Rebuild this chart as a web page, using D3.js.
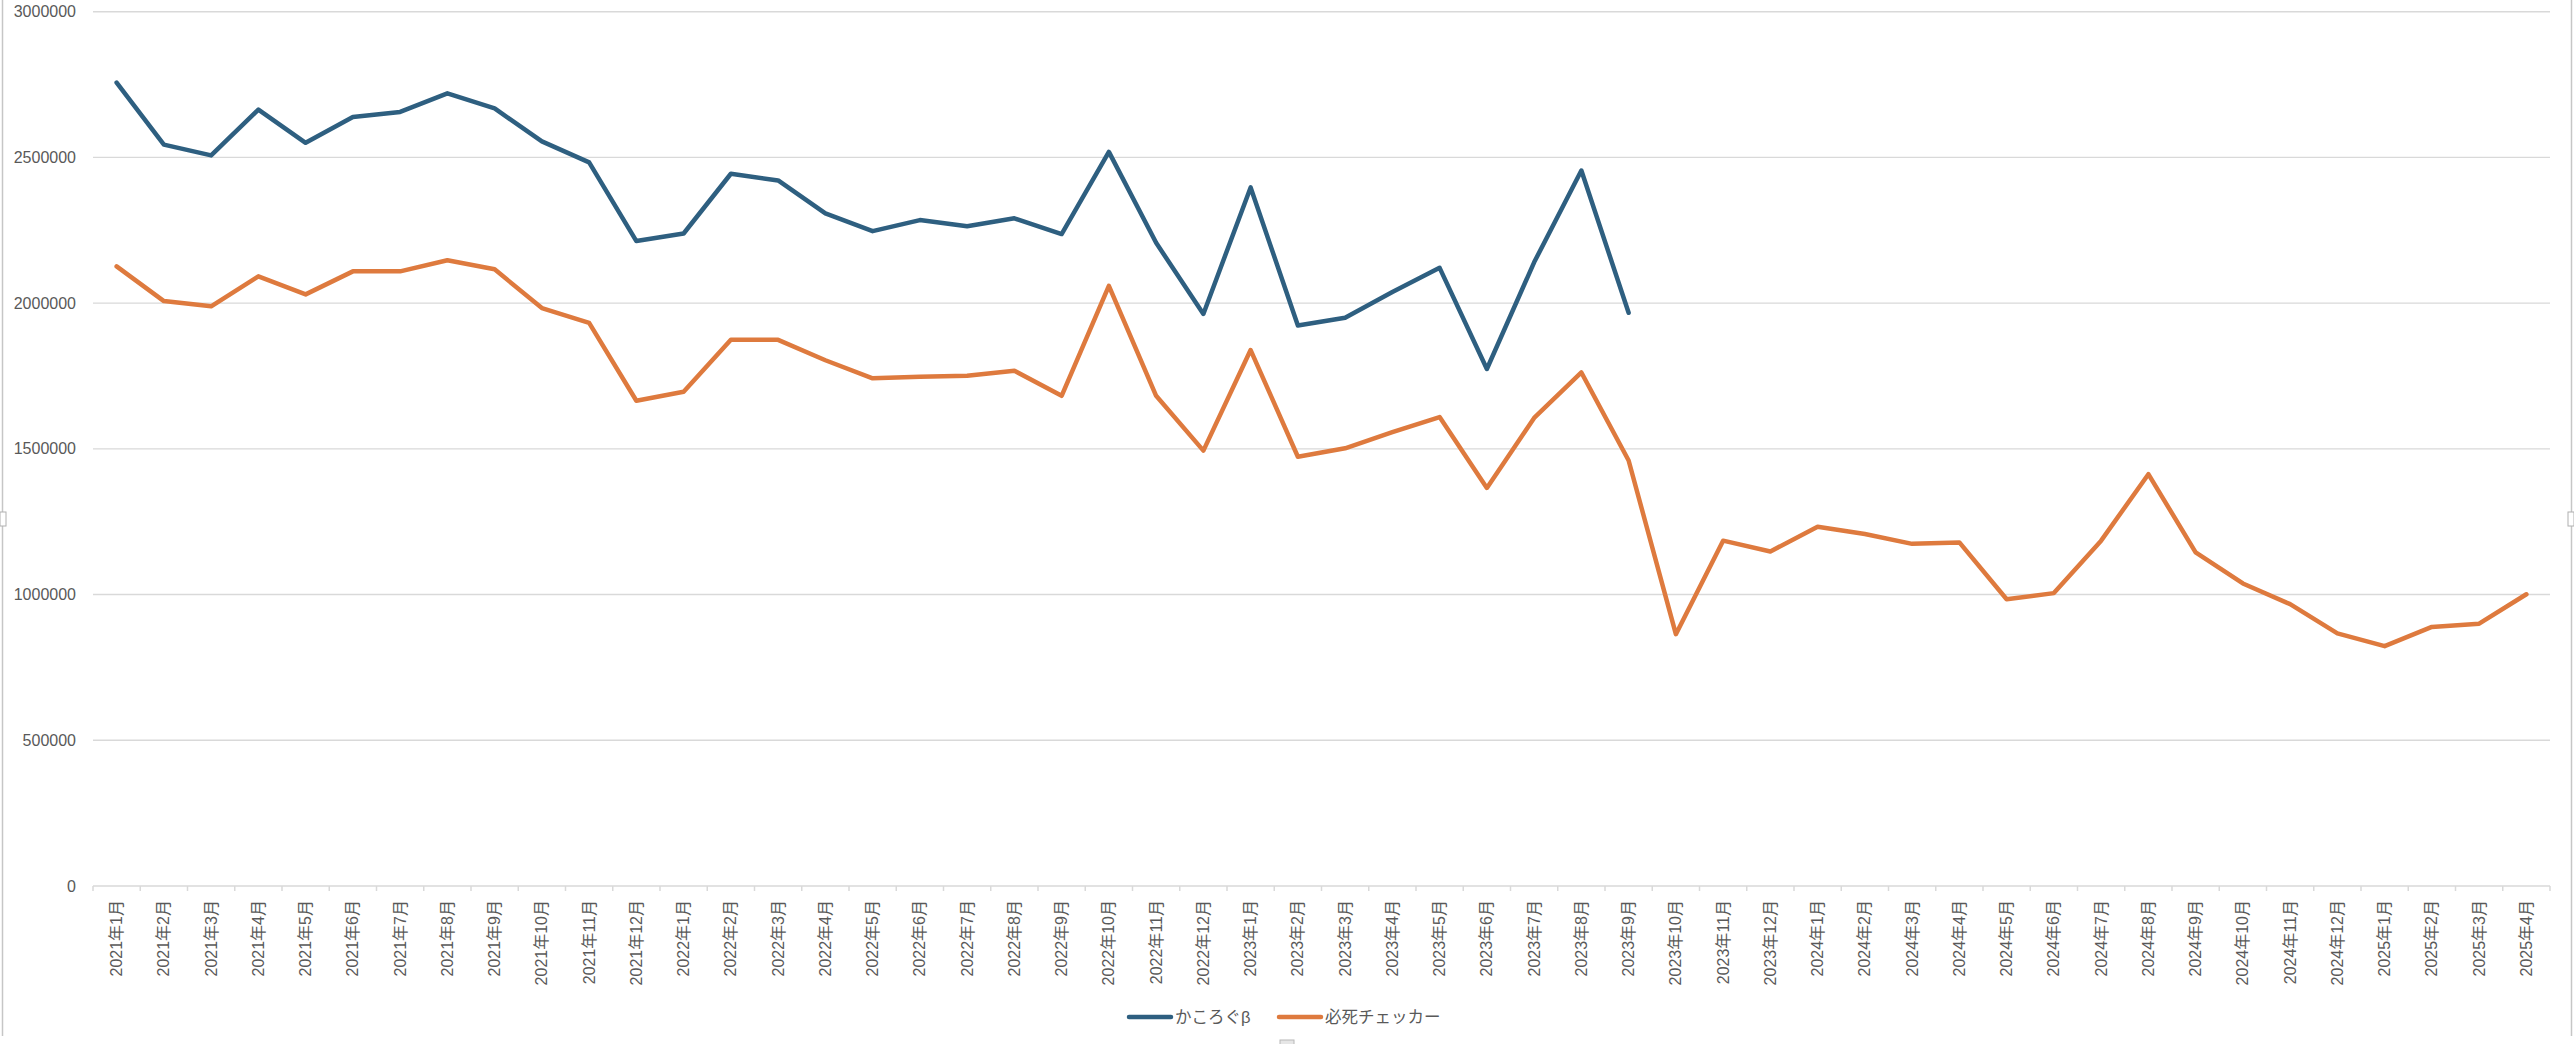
<!DOCTYPE html>
<html>
<head>
<meta charset="utf-8">
<script src="https://cdn.jsdelivr.net/npm/d3@7"></script>
<style>
  html, body { margin: 0; padding: 0; background: #ffffff; }
  svg { display: block; }
  text { font-family: "Liberation Sans", "Noto Sans CJK JP", sans-serif; fill: #595959; }
</style>
</head>
<body>
<svg id="chart" width="2574" height="1044"></svg>
<script>
const categories = [
  "2021年1月","2021年2月","2021年3月","2021年4月","2021年5月","2021年6月","2021年7月","2021年8月","2021年9月","2021年10月","2021年11月","2021年12月",
  "2022年1月","2022年2月","2022年3月","2022年4月","2022年5月","2022年6月","2022年7月","2022年8月","2022年9月","2022年10月","2022年11月","2022年12月",
  "2023年1月","2023年2月","2023年3月","2023年4月","2023年5月","2023年6月","2023年7月","2023年8月","2023年9月","2023年10月","2023年11月","2023年12月",
  "2024年1月","2024年2月","2024年3月","2024年4月","2024年5月","2024年6月","2024年7月","2024年8月","2024年9月","2024年10月","2024年11月","2024年12月",
  "2025年1月","2025年2月","2025年3月","2025年4月"
];

const seriesNames = ["かころぐβ", "必死チェッカー"];

const kakorogu = [
  2757000, 2544000, 2507000, 2664000, 2550000, 2639000, 2656000, 2720000, 2668000, 2555000, 2483000, 2213000,
  2239000, 2444000, 2421000, 2308000, 2247000, 2285000, 2264000, 2291000, 2237000, 2519000, 2207000, 1963000,
  2397000, 1923000, 1950000, 2038000, 2121000, 1774000, 2140000, 2455000, 1967000
];

const hisshi = [
  2126000, 2007000, 1989000, 2092000, 2030000, 2109000, 2109000, 2147000, 2116000, 1983000, 1932000, 1665000,
  1696000, 1874000, 1874000, 1804000, 1742000, 1747000, 1751000, 1768000, 1682000, 2059000, 1682000, 1494000,
  1839000, 1473000, 1502000, 1557000, 1609000, 1366000, 1606000, 1762000, 1460000, 864000, 1185000, 1148000,
  1233000, 1208000, 1174000, 1179000, 984000, 1005000, 1185000, 1413000, 1145000, 1038000, 967000, 867000,
  823000, 889000, 900000, 1001000
];

const yTicks = [0, 500000, 1000000, 1500000, 2000000, 2500000, 3000000];

const colors = ["#2E5F80", "#DE7A3E"];

(function () {
const svg = d3.select("#chart");
const pLeft = 93, pRight = 2550, pTop = 11.7, pBottom = 886;

// selection frame (as in the reference screenshot)
svg.append("line").attr("x1", 2.5).attr("x2", 2.5).attr("y1", 0).attr("y2", 1036)
  .attr("stroke", "#c6c6c6").attr("stroke-width", 1.5);
svg.append("line").attr("x1", 2571.5).attr("x2", 2571.5).attr("y1", 0).attr("y2", 1036)
  .attr("stroke", "#c6c6c6").attr("stroke-width", 1.5);
[[0, 512, 6, 14], [2568, 512, 6, 14]].forEach(r => {
  svg.append("rect").attr("x", r[0]).attr("y", r[1]).attr("width", r[2]).attr("height", r[3])
    .attr("fill", "#ffffff").attr("stroke", "#b0b0b0").attr("stroke-width", 1);
});
svg.append("rect").attr("x", 1280).attr("y", 1040).attr("width", 14).attr("height", 6)
  .attr("fill", "#e6e6e6").attr("stroke", "#b8b8b8").attr("stroke-width", 1);

const x = d3.scaleBand().domain(categories).range([pLeft, pRight]).padding(0);
const y = d3.scaleLinear().domain([0, 3000000]).range([pBottom, pTop]);
const cx = c => x(c) + x.bandwidth() / 2;

// gridlines
svg.append("g").selectAll("line").data(yTicks.filter(t => t > 0)).join("line")
  .attr("x1", pLeft).attr("x2", pRight)
  .attr("y1", d => y(d)).attr("y2", d => y(d))
  .attr("stroke", "#d9d9d9").attr("stroke-width", 1.4);

// y axis labels
const yAxis = d3.axisLeft(y).tickValues(yTicks).tickSize(0).tickPadding(0).tickFormat(d => String(d));
const gy = svg.append("g").attr("transform", "translate(76,0)").call(yAxis);
gy.select(".domain").remove();
gy.selectAll("text").attr("font-size", 16).attr("fill", "#595959")
  .style("font-family", '"Liberation Sans", "Noto Sans CJK JP", sans-serif');

// x axis line
svg.append("line").attr("x1", pLeft).attr("x2", pRight).attr("y1", y(0)).attr("y2", y(0))
  .attr("stroke", "#d9d9d9").attr("stroke-width", 1.5);

// tick marks at band boundaries
const bounds = categories.map(c => x(c)).concat([x(categories[categories.length - 1]) + x.bandwidth()]);
svg.append("g").selectAll("line").data(bounds).join("line")
  .attr("x1", d => d).attr("x2", d => d)
  .attr("y1", y(0)).attr("y2", y(0) + 5)
  .attr("stroke", "#d9d9d9").attr("stroke-width", 1.5);

// x labels (rotated)
svg.append("g").selectAll("text").data(categories).join("text")
  .attr("transform", d => `translate(${cx(d) + 5.5},900) rotate(-90)`)
  .attr("text-anchor", "end")
  .attr("font-size", 16)
  .text(d => d);

// lines
const series = [kakorogu, hisshi];
const line = d3.line()
  .defined(d => d.v != null)
  .x(d => cx(d.c))
  .y(d => y(d.v));

series.forEach((vals, i) => {
  const pts = categories.map((c, j) => ({ c: c, v: j < vals.length ? vals[j] : null }));
  svg.append("path").datum(pts)
    .attr("d", line)
    .attr("fill", "none")
    .attr("stroke", colors[i])
    .attr("stroke-width", 4.5)
    .attr("stroke-linejoin", "round")
    .attr("stroke-linecap", "round");
});

// legend
const legendX = [1129, 1279];
const legendY = 1017;
seriesNames.forEach((name, i) => {
  const g = svg.append("g").attr("transform", `translate(${legendX[i]},${legendY})`);
  g.append("line").attr("x1", 0).attr("x2", 42).attr("y1", 0).attr("y2", 0)
    .attr("stroke", colors[i]).attr("stroke-width", 4.5).attr("stroke-linecap", "round");
  g.append("text").attr("x", 46).attr("y", 6).attr("font-size", 16.5).text(name);
});
})();
</script>
</body>
</html>
